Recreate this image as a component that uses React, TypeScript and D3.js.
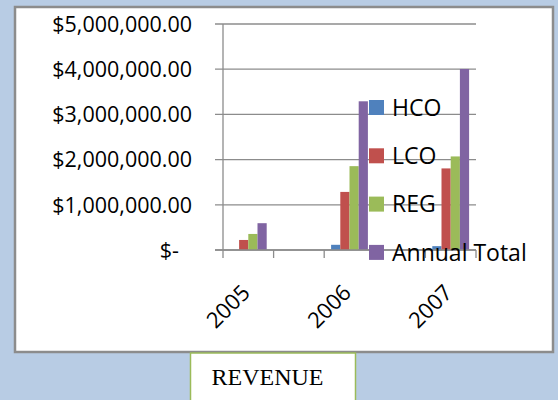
import React, { useEffect, useRef } from 'react';
import * as d3 from 'd3';

// Excel-style data: blank rows between years leave empty category slots
const categories = ['2005', '', '2006', '', '2007'];
const hco = [0, null, 115000, null, 85000];
const lco = [222000, null, 1285000, null, 1805000];
const reg = [355000, null, 1855000, null, 2070000];
const annualTotal = [593000, null, 3290000, null, 4005000];
const seriesNames = ['HCO', 'LCO', 'REG', 'Annual Total'];
const seriesColors = ['#4f81bd', '#c0504d', '#9bbb59', '#8064a2'];
const yTicks = [0, 1000000, 2000000, 3000000, 4000000, 5000000];
const chartTitle = 'REVENUE';

const W = 558;
const H = 400;

const App: React.FC = () => {
  const svgRef = useRef<SVGSVGElement | null>(null);

  useEffect(() => {
    if (!svgRef.current) return;
    const svg = d3.select(svgRef.current);
    svg.selectAll('*').remove();

    const font = '"Open Sans", "Noto Sans", sans-serif';
    const series = [hco, lco, reg, annualTotal];

    svg.append('rect').attr('width', W).attr('height', H).attr('fill', '#b8cce4');

    // chart box
    svg.append('rect')
      .attr('x', 15).attr('y', 7)
      .attr('width', 538).attr('height', 345)
      .attr('fill', '#ffffff')
      .attr('stroke', '#8c8c8c')
      .attr('stroke-width', 2.5);

    const x = d3.scaleBand<number>()
      .domain(categories.map((_, i) => i))
      .range([223, 476])
      .paddingInner(0)
      .paddingOuter(0);

    const y = d3.scaleLinear().domain([0, 5000000]).range([250, 24]);

    // gridlines + y labels
    const money = d3.format('$,.2f');
    const yg = svg.append('g');
    yg.selectAll('line.grid')
      .data(yTicks)
      .enter().append('line')
      .attr('class', 'grid')
      .attr('x1', 215).attr('x2', 476)
      .attr('y1', d => y(d)).attr('y2', d => y(d))
      .attr('stroke', '#8c8c8c')
      .attr('stroke-width', 1.3);

    yg.selectAll('text')
      .data(yTicks)
      .enter().append('text')
      .attr('x', d => (d === 0 ? 179 : 192))
      .attr('y', d => y(d))
      .attr('dy', '0.36em')
      .attr('text-anchor', 'end')
      .style('font-family', font)
      .style('font-size', '21.5px')
      .style('fill', '#000')
      .text(d => (d === 0 ? '$-' : money(d)));

    // bars
    const barW = x.bandwidth() / 5.5;
    const groupOffset = (x.bandwidth() - barW * series.length) / 2;
    series.forEach((vals, si) => {
      svg.append('g')
        .selectAll('rect')
        .data(vals.map((v, i) => ({ v, i })).filter(d => d.v != null && d.v > 0))
        .enter().append('rect')
        .attr('x', d => (x(d.i) as number) + groupOffset + si * barW)
        .attr('y', d => y(d.v as number))
        .attr('width', barW)
        .attr('height', d => y(0) - y(d.v as number))
        .attr('fill', seriesColors[si]);
    });

    // axes lines
    svg.append('line')
      .attr('x1', 223).attr('x2', 223)
      .attr('y1', y(5000000)).attr('y2', 258)
      .attr('stroke', '#8c8c8c').attr('stroke-width', 1.3);
    svg.append('line')
      .attr('x1', 215).attr('x2', 476)
      .attr('y1', y(0)).attr('y2', y(0))
      .attr('stroke', '#8c8c8c').attr('stroke-width', 1.3);
    const bounds = categories.map((_, i) => x(i) as number).concat([476]);
    svg.append('g').selectAll('line')
      .data(bounds.slice(1))
      .enter().append('line')
      .attr('x1', d => d).attr('x2', d => d)
      .attr('y1', y(0)).attr('y2', 258)
      .attr('stroke', '#8c8c8c').attr('stroke-width', 1.3);

    // x labels
    svg.append('g').selectAll('text')
      .data(categories.map((c, i) => ({ c, i })).filter(d => d.c !== ''))
      .enter().append('text')
      .attr('transform', d => `translate(${(x(d.i) as number) + x.bandwidth() / 2 + 3},294) rotate(-45)`)
      .attr('text-anchor', 'end')
      .style('font-family', font)
      .style('font-size', '22px')
      .style('fill', '#000')
      .text(d => d.c);

    // legend
    const leg = svg.append('g').selectAll('g')
      .data(seriesNames)
      .enter().append('g')
      .attr('transform', (_, i) => `translate(369,${107.5 + i * 48.3})`);
    leg.append('rect')
      .attr('x', 0).attr('y', -7.5)
      .attr('width', 15).attr('height', 15)
      .attr('fill', (_, i) => seriesColors[i]);
    leg.append('text')
      .attr('x', 23).attr('y', 0)
      .attr('dy', '0.36em')
      .style('font-family', font)
      .style('font-size', '23px')
      .style('fill', '#000')
      .text(d => d);

    // title box
    svg.append('rect')
      .attr('x', 190.5).attr('y', 353)
      .attr('width', 165).attr('height', 60)
      .attr('fill', '#ffffff')
      .attr('stroke', '#9bbb59')
      .attr('stroke-width', 1.5);
    svg.append('text')
      .attr('x', 211.5).attr('y', 385)
      .style('font-family', '"Liberation Serif", "Times New Roman", serif')
      .style('font-size', '24px')
      .style('fill', '#000')
      .text(chartTitle);
  }, []);

  return (
    <div style={{ position: 'absolute', left: 0, top: 0 }}>
      <svg ref={svgRef} width={W} height={H} style={{ display: 'block' }}></svg>
    </div>
  );
};

export default App;
